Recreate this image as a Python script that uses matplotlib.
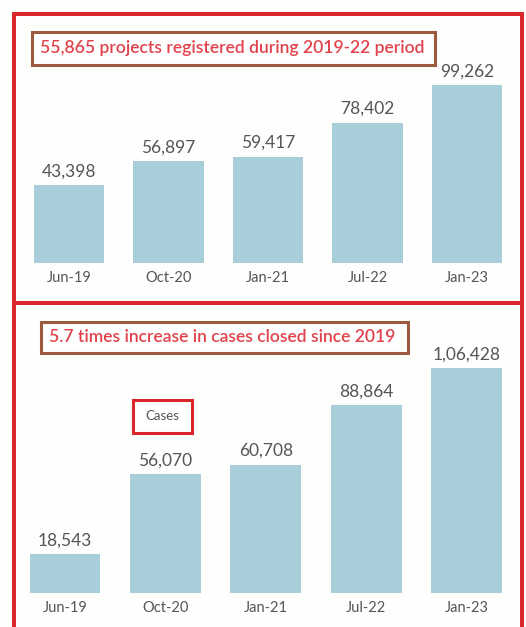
import matplotlib.pyplot as plt
from matplotlib.patches import Rectangle
from matplotlib.lines import Line2D

# data
periods = ["Jun-19", "Oct-20", "Jan-21", "Jul-22", "Jan-23"]
projects = [43398, 56897, 59417, 78402, 99262]
cases = [18543, 56070, 60708, 88864, 106428]
top_title = "55,865 projects registered during 2019-22 period"
bottom_title = "5.7 times increase in cases closed since 2019"

W, H = 526, 627
BAR = "#a8ced9"
RED = "#d9262b"
GREY = "#555555"
plt.rcParams['font.family'] = ['Lato', 'DejaVu Sans']


def indian(n):
    # Indian digit grouping, e.g. 1,06,428
    s = str(n)
    if len(s) <= 3:
        return s
    head, tail = s[:-3], s[-3:]
    groups = []
    while len(head) > 2:
        groups.insert(0, head[-2:])
        head = head[:-2]
    if head:
        groups.insert(0, head)
    return ",".join(groups) + "," + tail


def px_box(x0, y0, x1, y1):
    # pixel box (top-left origin) -> figure coords
    return [x0 / W, 1 - y1 / H, (x1 - x0) / W, (y1 - y0) / H]


fig = plt.figure(figsize=(W / 100, H / 100), dpi=100)
fig.patch.set_facecolor("#fefefd")


def panel(rect, values, ymax):
    ax = fig.add_axes(rect)
    ax.set_facecolor("none")
    x = range(len(values))
    bars = ax.bar(x, values, width=0.705, color=BAR)
    ax.set_xlim(-0.5, len(values) - 0.5)
    ax.set_ylim(0, ymax)
    ax.set_xticks(list(x), periods)
    ax.tick_params(axis="x", length=0, pad=6, labelsize=10.5, labelcolor=GREY)
    ax.set_yticks([])
    for s in ax.spines.values():
        s.set_visible(False)
    for b, v in zip(bars, values):
        ax.annotate(indian(v), (b.get_x() + b.get_width() / 2, v),
                    xytext=(0, 4), textcoords="offset points",
                    ha="center", va="bottom", fontsize=12.5, color=GREY)
    return ax


# top panel: bar bottoms at 263px, 99,262 -> 178px
panel(px_box(19, 263 - 206, 517, 263), projects, 115000)
# bottom panel: bar bottoms at 593px, 1,06,428 -> 225px
panel(px_box(14.8, 593 - 254, 516.8, 593), cases, 120000)

# outer red frame and divider
lw = 4
for (x0, y0, x1, y1) in [(13.5, 13.5, 13.5, 640), (13.5, 13.5, 522, 13.5),
                         (522, 13.5, 522, 640), (13.5, 303, 522, 303)]:
    fig.add_artist(Line2D([x0 / W, x1 / W], [1 - y0 / H, 1 - y1 / H],
                          color=RED, lw=lw * 0.72, solid_capstyle="projecting"))


def boxed(x0, y0, x1, y1, text, edge, tcolor, size, center=False, weight="normal"):
    fig.add_artist(Rectangle((x0 / W, 1 - y1 / H), (x1 - x0) / W, (y1 - y0) / H,
                             facecolor="white", edgecolor=edge, lw=2.2))
    if center:
        fig.text((x0 + x1) / 2 / W, 1 - (y0 + y1) / 2 / H, text, ha="center",
                 va="center", color=tcolor, fontsize=size, weight=weight)
    else:
        fig.text((x0 + 8) / W, 1 - (y0 + y1) / 2 / H, text, ha="left",
                 va="center", color=tcolor, fontsize=size, weight=weight)


boxed(32, 32, 435, 65, top_title, "#9c5b3e", "#e0434c", 12.6, weight="semibold")
boxed(41, 322, 408, 353, bottom_title, "#9c5b3e", "#e0434c", 12.6, weight="semibold")
boxed(133, 400, 192, 433, "Cases", RED, GREY, 9.5, center=True)

fig.savefig("out.png", dpi=100, facecolor=fig.get_facecolor())
